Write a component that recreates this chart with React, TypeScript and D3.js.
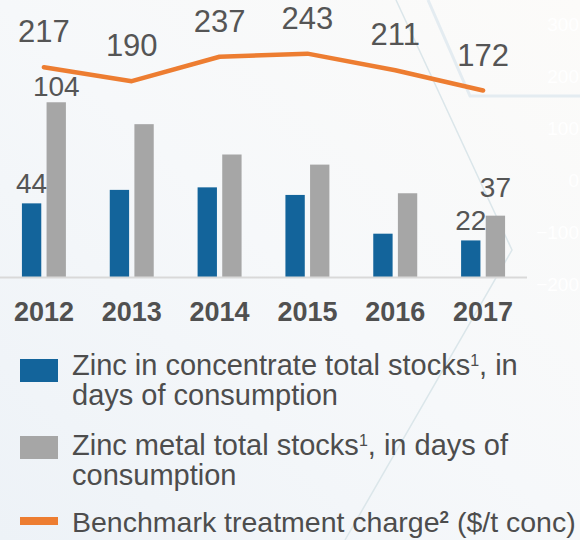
import React, { useEffect, useRef } from "react";
import * as d3 from "d3";

const years = ["2012", "2013", "2014", "2015", "2016", "2017"];
const concStocks = [44, 52, 53.5, 49, 26, 22];
const metalStocks = [104, 91, 73, 67, 50, 36.7];
const treatmentCharge = [217, 190, 237, 243, 211, 172];
const labelledYears = ["2012", "2017"];
const concLabels = [44, 52, 54, 49, 26, 22];
const metalLabels = [104, 91, 73, 67, 50, 37];
const rightTicks = [300, 200, 100, 0, -100, -200];

const series = ["conc", "metal"];
const colors = { conc: "#13649b", metal: "#a6a6a6", line: "#ed7d31" };
const textColor = "#555555";
const font = "'Liberation Sans', Arial, sans-serif";

const App = () => {
  const width = 580;
  const height = 540;
  const ref = useRef(null);

  useEffect(() => {
    const svg = d3.select(ref.current);
    svg.selectAll("*").remove();

    const defs = svg.append("defs");
    const grad = defs
      .append("linearGradient")
      .attr("id", "bg")
      .attr("x1", "0")
      .attr("y1", "1")
      .attr("x2", "1")
      .attr("y2", "0");
    grad.append("stop").attr("offset", "0").attr("stop-color", "#edf2f7");
    grad.append("stop").attr("offset", "0.5").attr("stop-color", "#f6f8fa");
    grad.append("stop").attr("offset", "1").attr("stop-color", "#fcfbf9");

    svg.append("rect").attr("width", width).attr("height", height).attr("fill", "url(#bg)");

    // faint background decoration
    const deco = svg.append("g").attr("fill", "none").attr("stroke", "#dbe6ea").attr("stroke-width", 1.5);
    deco.append("path").attr("d", "M396,0 L512,250 L345,540");
    deco.append("path").attr("d", "M428,0 L470,96 L580,96").attr("stroke", "#e4ecf1").attr("stroke-width", 3);

    const x = d3.scaleBand().domain(years).range([0, 527]).padding(0);
    const xs = d3
      .scaleBand()
      .domain(series)
      .range([0, x.bandwidth()])
      .paddingInner(0.215)
      .paddingOuter(0.89);
    const yBar = d3.scaleLinear().domain([0, 100]).range([277.5, 109]);
    const yLine = d3.scaleLinear().domain([-200, 300]).range([284, 24]);

    // faint right axis (almost white on the background)
    svg
      .append("g")
      .attr("transform", "translate(579,0)")
      .call(d3.axisRight(yLine).tickValues(rightTicks).tickSize(0).tickPadding(0))
      .call((g) => g.select(".domain").remove())
      .selectAll("text")
      .attr("text-anchor", "end")
      .attr("fill", "#ffffff")
      .style("font-family", font)
      .style("font-size", "19px");

    const groups = svg
      .append("g")
      .selectAll("g")
      .data(years)
      .enter()
      .append("g")
      .attr("transform", (d) => `translate(${x(d)},0)`);

    groups
      .selectAll("rect")
      .data((d, i) => [
        { key: "conc", value: concStocks[i] },
        { key: "metal", value: metalStocks[i] },
      ])
      .enter()
      .append("rect")
      .attr("x", (d) => xs(d.key))
      .attr("width", xs.bandwidth())
      .attr("y", (d) => yBar(d.value))
      .attr("height", (d) => yBar(0) - yBar(d.value))
      .attr("fill", (d) => colors[d.key]);

    // baseline
    svg
      .append("line")
      .attr("x1", 0)
      .attr("x2", 527)
      .attr("y1", yBar(0))
      .attr("y2", yBar(0))
      .attr("stroke", "#d9d9d9")
      .attr("stroke-width", 2);

    // bar labels
    const barLabels = svg.append("g").style("font-family", font).style("font-size", "28px").attr("fill", textColor).attr("text-anchor", "middle");
    labelledYears.forEach((yr) => {
      const i = years.indexOf(yr);
      const concY = yBar(concStocks[i]) - 10;
      const metalY = Math.min(yBar(metalStocks[i]) - 6, concY - 33);
      barLabels
        .append("text")
        .attr("x", x(yr) + xs("conc") + xs.bandwidth() / 2)
        .attr("y", concY)
        .text(concLabels[i]);
      barLabels
        .append("text")
        .attr("x", x(yr) + xs("metal") + xs.bandwidth() / 2)
        .attr("y", metalY)
        .text(metalLabels[i]);
    });

    const cx = (d) => x(d) + x.bandwidth() / 2;
    const line = d3
      .line()
      .x((d, i) => cx(years[i]))
      .y((d) => yLine(d));

    svg
      .append("path")
      .datum(treatmentCharge)
      .attr("fill", "none")
      .attr("stroke", colors.line)
      .attr("stroke-width", 4.5)
      .attr("stroke-linecap", "round")
      .attr("stroke-linejoin", "round")
      .attr("d", line);

    svg
      .append("g")
      .selectAll("text")
      .data(treatmentCharge)
      .enter()
      .append("text")
      .attr("x", (d, i) => cx(years[i]))
      .attr("y", (d) => yLine(d) - 25)
      .attr("text-anchor", "middle")
      .attr("fill", textColor)
      .style("font-family", font)
      .style("font-size", "31px")
      .text((d) => d);

    // year axis
    svg
      .append("g")
      .attr("transform", "translate(0,278)")
      .call(d3.axisBottom(x).tickSize(0).tickPadding(0))
      .call((g) => g.select(".domain").remove())
      .selectAll("text")
      .attr("dy", 0)
      .attr("y", 42.5)
      .attr("fill", "#505050")
      .style("font-family", font)
      .style("font-size", "27px")
      .style("font-weight", "bold");

    // legend
    const legend = svg.append("g").style("font-family", font).style("font-size", "29px").attr("fill", "#4d4d4d");
    legend.append("rect").attr("x", 20).attr("y", 359).attr("width", 38).attr("height", 23).attr("fill", colors.conc);
    legend.append("rect").attr("x", 20).attr("y", 436).attr("width", 38).attr("height", 23).attr("fill", colors.metal);
    legend.append("rect").attr("x", 20).attr("y", 517).attr("width", 38).attr("height", 8).attr("fill", colors.line);

    const t1 = legend.append("text").attr("x", 72).attr("y", 375);
    t1.append("tspan").text("Zinc in concentrate total stocks");
    t1.append("tspan").attr("dy", -9).style("font-size", "16px").text("1");
    t1.append("tspan").attr("dy", 9).text(", in");
    legend.append("text").attr("x", 72).attr("y", 405).text("days of consumption");

    const t2 = legend.append("text").attr("x", 72).attr("y", 455);
    t2.append("tspan").text("Zinc metal total stocks");
    t2.append("tspan").attr("dy", -9).style("font-size", "16px").text("1");
    t2.append("tspan").attr("dy", 9).text(", in days of");
    legend.append("text").attr("x", 72).attr("y", 485).text("consumption");

    const t3 = legend.append("text").attr("x", 72).attr("y", 532).style("font-size", "28.5px");
    t3.append("tspan").text("Benchmark treatment charge");
    t3.append("tspan").attr("dy", -9).style("font-size", "17px").style("font-weight", "bold").text("2");
    t3.append("tspan").attr("dy", 9).text(" ($/t conc)");
  }, [height, width]);

  return (
    <svg
      ref={ref}
      width={width}
      height={height}
      style={{ position: "absolute", left: 0, top: 0 }}
    />
  );
};

export default App;
